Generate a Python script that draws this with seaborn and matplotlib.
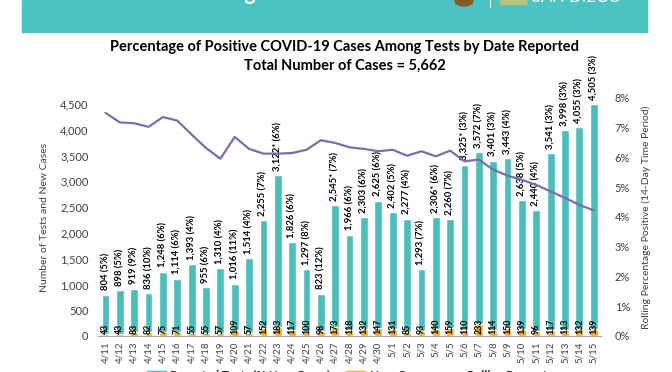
"""Percentage of positive COVID-19 cases among tests by date reported."""

import matplotlib
matplotlib.use("Agg")
import matplotlib.pyplot as plt
import matplotlib.ticker as mticker
from matplotlib.patches import Rectangle, Circle, Patch
from matplotlib.lines import Line2D
import numpy as np
import pandas as pd
import seaborn as sns

# ── data ──────────────────────────────────────────────────────────────────────
dates = ["4/11", "4/12", "4/13", "4/14", "4/15", "4/16", "4/17", "4/18", "4/19",
         "4/20", "4/21", "4/22", "4/23", "4/24", "4/25", "4/26", "4/27", "4/28",
         "4/29", "4/30", "5/1", "5/2", "5/3", "5/4", "5/5", "5/6", "5/7", "5/8",
         "5/9", "5/10", "5/11", "5/12", "5/13", "5/14", "5/15"]
tests = [804, 898, 919, 836, 1248, 1114, 1393, 955, 1310, 1016, 1514, 2255, 3122,
         1826, 1297, 823, 2545, 1966, 2303, 2625, 2402, 2277, 1293, 2306, 2260,
         3325, 3572, 3401, 3443, 2638, 2440, 3541, 3998, 4055, 4505]
pct_new = [5, 5, 9, 10, 6, 6, 4, 6, 4, 11, 4, 7, 6, 6, 8, 12, 7, 6, 6, 6, 5, 4,
           7, 6, 7, 3, 7, 3, 4, 5, 4, 3, 3, 3, 3]
starred = ["4/23", "4/27", "5/4", "5/6"]
new_cases = [43, 43, 83, 82, 75, 71, 55, 55, 57, 109, 57, 152, 183, 117, 100, 98,
             173, 118, 132, 147, 131, 85, 93, 140, 159, 110, 233, 114, 150, 139,
             96, 117, 113, 132, 139]
rolling_pct = [7.50, 7.18, 7.15, 7.03, 7.36, 7.24, 6.77, 6.32, 5.96, 6.69, 6.29,
               6.13, 6.13, 6.15, 6.26, 6.58, 6.49, 6.34, 6.29, 6.21, 6.26, 6.06,
               6.21, 6.04, 6.23, 5.87, 5.93, 5.59, 5.39, 5.25, 5.08, 4.86, 4.64,
               4.41, 4.22]

df = pd.DataFrame({"date": dates, "tests": tests, "new": new_cases,
                   "pct": pct_new, "rolling": rolling_pct})
df["pos"] = np.arange(len(df))

TEAL   = "#47BFBA"
ORANGE = "#F7A928"
PURPLE = "#7D6AB3"
TEXT   = "#404040"

# ── canvas ────────────────────────────────────────────────────────────────────
sns.set_theme(style="white")
plt.rcParams["font.family"] = ["Lato", "DejaVu Sans"]

fig = plt.figure(figsize=(6.72, 3.72), dpi=100, facecolor="white")
W, H = 672, 372

# header banner (cut off at the top of the page)
fig.patches.append(Rectangle((22 / W, 1 - 32 / H), (647 - 22) / W, 32 / H,
                             transform=fig.transFigure, color="#4BC3C0", zorder=0))
fig.text(51 / W, 1 - 0.5 / H, "COVID-19 Percentage Positive", color="white",
         fontsize=15.5, fontweight="bold", va="baseline", ha="left")
fig.patches.append(Circle((464 / W, 1 - 1 / H), 9 / W, transform=fig.transFigure,
                          color="#8B5A2B", zorder=1))
fig.add_artist(Line2D([490 / W, 490 / W], [1, 1 - 7 / H], color="white", lw=0.8,
                      transform=fig.transFigure))
fig.patches.append(Rectangle((500 / W, 1 - 4 / H), 26 / W, 6 / H,
                             transform=fig.transFigure, color="#B8C27A", zorder=1))
fig.text(532 / W, 1 - 1.5 / H, "SAN DIEGO", color="white", fontsize=12,
         va="baseline", ha="left")

fig.text(345 / W, 1 - 47 / H,
         "Percentage of Positive COVID-19 Cases Among Tests by Date Reported",
         ha="center", va="center", fontsize=10.5, fontweight="bold", color="black")
fig.text(345 / W, 1 - 66 / H, "Total Number of Cases = 5,662",
         ha="center", va="center", fontsize=10.5, fontweight="bold", color="black")

ax = fig.add_axes([98.3 / W, 36 / H, 502.6 / W, 238 / H])

# ── bars ──────────────────────────────────────────────────────────────────────
sns.barplot(data=df, x="date", y="tests", color=TEAL, width=0.54, ax=ax,
            saturation=1, zorder=2)
sns.barplot(data=df, x="date", y="new", color=ORANGE, width=0.54, ax=ax,
            saturation=1, zorder=3)

for _, r in df.iterrows():
    star = "*" if r["date"] in starred else ""
    ax.annotate(f"{r['tests']:,}{star} ({r['pct']}%)", (r["pos"], r["tests"]),
                xytext=(0, 3), textcoords="offset points", rotation=90,
                ha="center", va="bottom", fontsize=6.8, fontweight="bold",
                color="black", zorder=5)
    ax.annotate(f"{r['new']}", (r["pos"], 0), xytext=(0, 1.5),
                textcoords="offset points", rotation=90, ha="center",
                va="bottom", fontsize=6.3, fontweight="bold", color="black",
                zorder=5)

ax.set_xlim(-0.5, len(df) - 0.5)
ax.set_ylim(0, 4616)
ax.yaxis.set_major_locator(mticker.MultipleLocator(500))
ax.yaxis.set_major_formatter(mticker.StrMethodFormatter("{x:,.0f}"))
ax.set_xlabel("")
ax.set_ylabel("Number of Tests and New Cases", fontsize=7.5, color=TEXT,
              labelpad=8)
ax.tick_params(axis="y", labelsize=8, colors=TEXT, length=0, pad=7)
ax.tick_params(axis="x", labelsize=7, colors=TEXT, length=0, pad=4,
               rotation=90)
for s in ["top", "left", "right"]:
    ax.spines[s].set_visible(False)
ax.spines["bottom"].set_color("#A6A6A6")
ax.spines["bottom"].set_linewidth(0.8)
ax.grid(False)

# ── rolling percentage ────────────────────────────────────────────────────────
ax2 = ax.twinx()
sns.lineplot(data=df, x="pos", y="rolling", color=PURPLE, linewidth=1.6,
             ax=ax2, zorder=4)
ax2.set_ylim(0, 8)
ax2.yaxis.set_major_locator(mticker.MultipleLocator(1))
ax2.yaxis.set_major_formatter(mticker.StrMethodFormatter("{x:.0f}%"))
ax2.set_ylabel("Rolling Percentage Positive (14-Day Time Period)", fontsize=7.5,
               color=TEXT, labelpad=8)
ax2.tick_params(axis="y", labelsize=8, colors=TEXT, length=0, pad=10)
for s in ["top", "left", "right", "bottom"]:
    ax2.spines[s].set_visible(False)
ax2.grid(False)
ax2.set_xlabel("")

# ── legend (cut off at the bottom of the page) ────────────────────────────────
handles = [Patch(color=TEAL), Patch(color=ORANGE),
           Line2D([], [], color=PURPLE, lw=1.6)]
labels = ["Reported Tests (% New Cases)", "New Cases", "Rolling Percentage"]
fig.legend(handles, labels, loc="upper center", bbox_to_anchor=(356 / W, 8 / H),
           ncol=3, frameon=False, prop={"weight": "bold", "size": 8.5},
           handlelength=1.6, columnspacing=1.3, borderpad=0, handletextpad=0.4)

fig.savefig("out.png", dpi=100, facecolor="white")
